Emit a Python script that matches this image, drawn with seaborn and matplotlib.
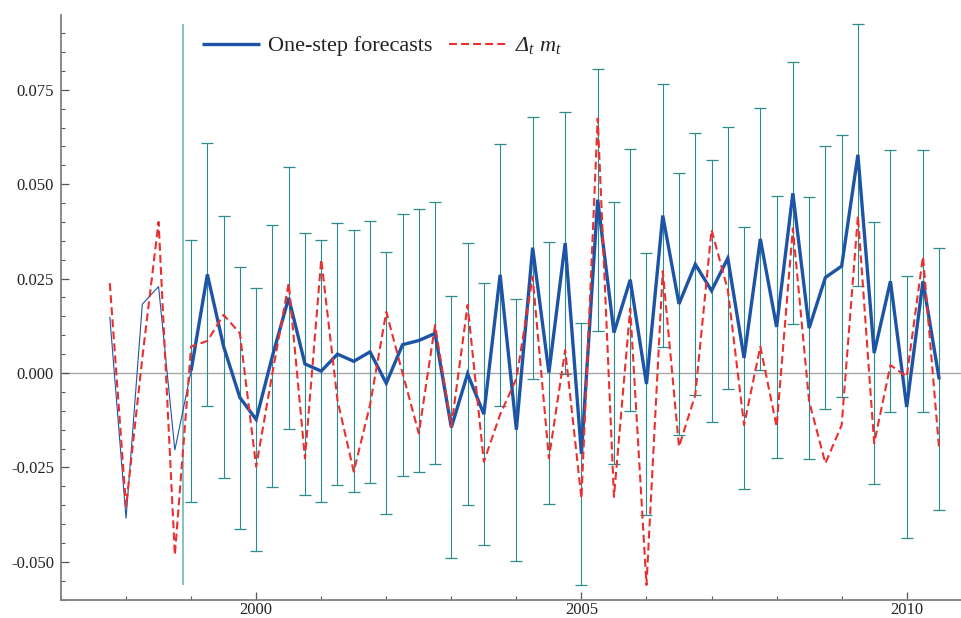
import numpy as np
import pandas as pd
import matplotlib
matplotlib.use("Agg")
import matplotlib.pyplot as plt
import seaborn as sns
from matplotlib.ticker import MultipleLocator, FormatStrFormatter, FixedLocator

# quarterly time axis in decimal years (1997Q4 ... 2010Q3)
quarters = np.arange(1997.75, 2010.5001, 0.25)

# observed quarterly change of log money, Delta_t m_t
delta_m = [
    0.0238, -0.0354, 0.0040, 0.0400, -0.0482,
    0.0070, 0.0085, 0.0154, 0.0105,
    -0.0248, 0.0000, 0.0238, -0.0226,
    0.0301, -0.0072, -0.0261, -0.0085,
    0.0162, 0.0000, -0.0160, 0.0127,
    -0.0142, 0.0180, -0.0235, -0.0110,
    -0.0015, 0.0255, -0.0226, 0.0061,
    -0.0332, 0.0674, -0.0328, 0.0171,
    -0.0561, 0.0270, -0.0195, -0.0058,
    0.0379, 0.0220, -0.0138, 0.0070,
    -0.0142, 0.0383, -0.0075, -0.0239,
    -0.0138, 0.0416, -0.0186, 0.0021,
    -0.0010, 0.0308, -0.0204,
]

# fitted values over the estimation sample (1997Q4 ... 1999Q1)
in_sample = [0.0149, -0.0385, 0.0182, 0.0229, -0.0204, 0.0006]

# one-step-ahead forecasts (1999Q1 ... 2010Q3)
forecast = [
    0.0006, 0.0261, 0.0070, -0.0065,
    -0.0123, 0.0045, 0.0199, 0.0024,
    0.0005, 0.0050, 0.0031, 0.0056,
    -0.0027, 0.0075, 0.0086, 0.0105,
    -0.0144, -0.0002, -0.0109, 0.0260,
    -0.0150, 0.0332, 0.0001, 0.0344,
    -0.0214, 0.0459, 0.0107, 0.0247,
    -0.0029, 0.0417, 0.0183, 0.0288,
    0.0218, 0.0304, 0.0040, 0.0355,
    0.0122, 0.0476, 0.0119, 0.0253,
    0.0283, 0.0578, 0.0053, 0.0243,
    -0.0090, 0.0243, -0.0017,
]
# half width of the forecast interval
band_halfwidth = 0.0347

# marker between estimation sample and forecast period
split_date = 1998.875
split_low, split_high = -0.0561, 0.0924

x_major = [2000, 2005, 2010]
x_labels = ["2000", "2005", "2010"]

BLUE = "#1d54a6"
RED = "#ea2f2f"
TEAL = "#2a8c8c"
TEAL_LIGHT = "#86c2c0"
AXIS_GRAY = "#808080"

sns.set_style("ticks")
plt.rcParams["font.family"] = ["Liberation Serif", "DejaVu Serif"]
# math text in italic serif, Greek capitals included
plt.rcParams["mathtext.fontset"] = "custom"
plt.rcParams["mathtext.rm"] = "Liberation Serif:italic"
plt.rcParams["mathtext.it"] = "Liberation Serif:italic"

W, H = 962, 618
fig = plt.figure(figsize=(W / 100, H / 100), dpi=100)
ax = fig.add_axes([61 / W, 18 / H, 901 / W, 585 / H])

n_in = len(in_sample)
n_fc = len(forecast)
fit_df = pd.DataFrame({"date": quarters[:n_in], "value": in_sample})
fc_df = pd.DataFrame({"date": quarters[n_in - 1:n_in - 1 + n_fc], "value": forecast})
dm_df = pd.DataFrame({"date": quarters[:len(delta_m)], "value": delta_m})

# zero reference line
ax.axhline(0.0, color="#a8a8a8", lw=1.0, zorder=0.5)

# separator between sample and forecast window
ax.vlines(split_date, split_low, split_high, color=TEAL_LIGHT, lw=1.4, zorder=1)

# forecast intervals
ax.errorbar(fc_df["date"], fc_df["value"], yerr=band_halfwidth, fmt="none",
            ecolor=TEAL, elinewidth=0.8, capsize=4.5, capthick=0.9, zorder=1.5)

# in-sample fit (thin) and one-step forecasts (thick)
sns.lineplot(data=fit_df, x="date", y="value", ax=ax, color=BLUE, lw=0.8,
             zorder=2, sort=False)
sns.lineplot(data=fc_df, x="date", y="value", ax=ax, color=BLUE, lw=2.4,
             zorder=3, sort=False, label="One-step forecasts")
sns.lineplot(data=dm_df, x="date", y="value", ax=ax, color=RED, lw=1.5,
             zorder=4, sort=False, label=r"$\Delta_t\ m_t$")
ax.lines[-1].set_dashes((3.8, 2.0))
for ln in ax.lines:
    ln.set_solid_joinstyle("miter")
    ln.set_solid_capstyle("butt")

ax.set_xlim(1997.0, 2010.85)
ax.set_ylim(-0.0601, 0.0948)
ax.set_xlabel("")
ax.set_ylabel("")

ax.xaxis.set_major_locator(FixedLocator(x_major))
ax.set_xticklabels(x_labels)
ax.xaxis.set_minor_locator(MultipleLocator(1))
ax.yaxis.set_major_locator(MultipleLocator(0.025))
ax.yaxis.set_minor_locator(MultipleLocator(0.005))
ax.yaxis.set_major_formatter(FormatStrFormatter("%.3f"))

for side in ("top", "right"):
    ax.spines[side].set_visible(False)
for side in ("left", "bottom"):
    ax.spines[side].set_color(AXIS_GRAY)
    ax.spines[side].set_linewidth(1.3)

ax.tick_params(axis="both", which="major", direction="in", length=5.5,
               width=0.9, color="#555555", labelsize=12, labelcolor="#222222")
ax.tick_params(axis="both", which="minor", direction="in", length=3,
               width=0.8, color="#555555")
ax.tick_params(axis="y", which="major", pad=5)
ax.tick_params(axis="x", which="major", pad=1.5)

leg = ax.legend(loc="center left", bbox_to_anchor=(202 / W, 1 - 46 / H),
                bbox_transform=fig.transFigure, ncol=2, frameon=False,
                fontsize=16, handlelength=2.6, handletextpad=0.36,
                columnspacing=0.75, borderpad=0, borderaxespad=0)
for t in leg.get_texts():
    t.set_color("#222222")

fig.savefig("out.png", dpi=100)
